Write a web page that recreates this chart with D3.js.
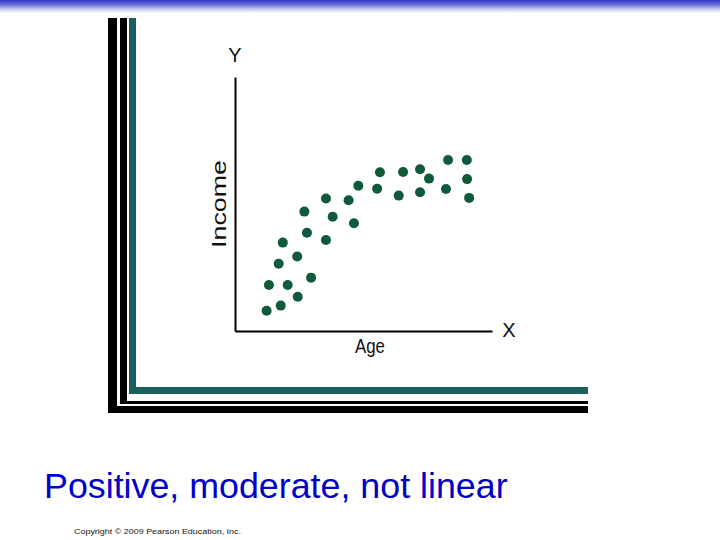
<!DOCTYPE html>
<html><head><meta charset="utf-8">
<script src="https://cdn.jsdelivr.net/npm/d3@7"></script>
<style>html,body{margin:0;padding:0;background:#fff;}svg{display:block;}</style>
</head><body>
<script>
// Data (arbitrary 0-100 units)
const age =    [12.3,17.8,24.4,13.2,20.5,29.6,17.0,24.2,18.6,28.0,35.4,27.0,38.0,46.3,35.4,44.2,48.0,56.4,55.3,65.4,63.7,72.0,75.5,72.0,82.9,90.2,82.1,90.3,91.1];
const income = [ 8.0,10.0,13.5,18.1,18.1,21.0,26.5,29.3,34.8,38.7,35.8,47.0,45.0,42.4,52.2,51.5,57.2,62.5,56.0,62.6,53.3,63.7,60.0,54.6,67.3,67.3,55.9,59.8,52.4];
const axisLabels = {x: "Age", y: "Income", xLetter: "X", yLetter: "Y"};
const title = "Positive, moderate, not linear";
const copyright = "Copyright \u00A9 2009 Pearson Education, Inc.";

const W = 720, H = 540;
const svg = d3.select("body").append("svg").attr("width", W).attr("height", H);

// top gradient band
const defs = svg.append("defs");
const g = defs.append("linearGradient").attr("id","topg").attr("x1",0).attr("y1",0).attr("x2",0).attr("y2",1);
g.append("stop").attr("offset","0%").attr("stop-color","#3434c4");
g.append("stop").attr("offset","35%").attr("stop-color","#6a6ad2");
g.append("stop").attr("offset","70%").attr("stop-color","#c8c8ef");
g.append("stop").attr("offset","100%").attr("stop-color","#ffffff");
svg.append("rect").attr("x",0).attr("y",0).attr("width",W).attr("height",13).attr("fill","url(#topg)");

// frame
const teal = "#1d5f5f";
svg.append("rect").attr("x",108).attr("y",18).attr("width",9).attr("height",395).attr("fill","#000");
svg.append("rect").attr("x",108).attr("y",406).attr("width",480).attr("height",7).attr("fill","#000");
svg.append("rect").attr("x",120).attr("y",18).attr("width",7).attr("height",386).attr("fill","#000");
svg.append("rect").attr("x",120).attr("y",401).attr("width",468).attr("height",3).attr("fill","#000");
svg.append("rect").attr("x",129).attr("y",18).attr("width",7).attr("height",376).attr("fill",teal);
svg.append("rect").attr("x",129).attr("y",387).attr("width",459).attr("height",7).attr("fill",teal);

// scales
const x = d3.scaleLinear().domain([0,100]).range([235,492]);
const y = d3.scaleLinear().domain([0,100]).range([331,77]);

// axes
const xAxis = svg.append("g").attr("transform",`translate(0,${y(0)})`).call(d3.axisBottom(x).ticks(0).tickSize(0).tickFormat(""));
xAxis.select(".domain").attr("stroke","#000").attr("stroke-width",2);
const yAxis = svg.append("g").attr("transform",`translate(${x(0)},0)`).call(d3.axisLeft(y).ticks(0).tickSize(0).tickFormat(""));
yAxis.select(".domain").attr("stroke","#000").attr("stroke-width",2);

const lab = "Liberation Sans, Arial, sans-serif";
svg.append("text").attr("x",x(0)).attr("y",62).attr("text-anchor","middle")
  .attr("font-family",lab).attr("font-size",20).attr("fill","#111").text(axisLabels.yLetter);
svg.append("text").attr("x",509).attr("y",337).attr("text-anchor","middle")
  .attr("font-family",lab).attr("font-size",20).attr("fill","#111").text(axisLabels.xLetter);
svg.append("text").attr("x",355).attr("y",353).attr("textLength",30).attr("lengthAdjust","spacingAndGlyphs")
  .attr("font-family",lab).attr("font-size",20).attr("fill","#111").text(axisLabels.x);
svg.append("text").attr("transform","translate(226,248) rotate(-90)").attr("textLength",88).attr("lengthAdjust","spacingAndGlyphs")
  .attr("font-family",lab).attr("font-size",20).attr("fill","#111").text(axisLabels.y);

// points
svg.append("g").selectAll("circle").data(age.map((a,i)=>({a, v: income[i]}))).join("circle")
  .attr("cx", d=>x(d.a)).attr("cy", d=>y(d.v)).attr("r",5).attr("fill","#0e5a3a");

// title and copyright
svg.append("text").attr("x",44).attr("y",498).attr("font-family",lab).attr("font-size",35.8)
  .attr("fill","#0000c8").text(title);
svg.append("text").attr("x",74).attr("y",534).attr("textLength",167).attr("lengthAdjust","spacingAndGlyphs")
  .attr("font-family",lab).attr("font-size",8).attr("fill","#111").text(copyright);
</script>
</body></html>
